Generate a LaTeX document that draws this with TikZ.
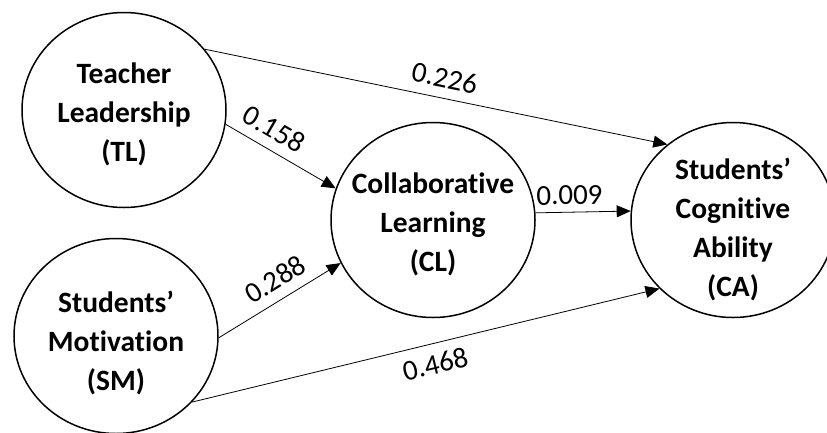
\documentclass[tikz,border=0pt]{standalone}
\usepackage{fontspec}
\setmainfont{Carlito}[Ligatures={NoCommon}]
\usetikzlibrary{arrows.meta, positioning, shapes.geometric}
\tikzset{
  construct/.style={ellipse, draw, line width=1.5pt, minimum width=204pt,
    minimum height=195pt, inner sep=0pt},
  conname/.style={align=center, inner sep=0pt,
    font=\fontsize{29.5}{39}\selectfont\bfseries},
  effect/.style={-{Triangle[length=14pt,width=12pt]}, line width=0.8pt},
  coef/.style={font=\fontsize{29}{34}\selectfont, sloped, inner sep=10pt},
}

\begin{document}
\begin{tikzpicture}[x=1pt,y=-1pt]
\useasboundingbox (0,0) rectangle (827,432);
% constructs
\node[construct] (TL) at (124,110) {};
\node[construct] (SM) at (116,336) {};
\node[construct] (CL) at (433,220) {};
\node[construct] (CA) at (733,220) {};
% construct names
\node[conname] (TLname) at ([yshift=-4pt]TL.center) {Teacher\\Leadership\\(TL)};
\node[conname] (SMname) at ([yshift=-7pt]SM.center) {Students’\\Motivation\\(SM)};
\node[conname] (CLname) at ([yshift=-4pt]CL.center) {Collaborative\\Learning\\(CL)};
\node[conname] (CAname) at ([yshift=-9pt]CA.center) {Students’\\Cognitive\\Ability\\(CA)};
% paths
\draw[effect] (TL.37) -- node[coef, above, pos=0.51] {0.226} (CA.131);
\draw[effect] (TL.-8) -- node[coef, above, pos=0.35] {0.158} (CL.162);
\draw[effect] (SM.-1) -- node[coef, above, pos=0.55] {0.288} (CL.205);
\draw[effect] (CL.4.5) -- node[coef, above, pos=0.36, inner sep=7pt] {0.009} (CA.175.5);
\draw[effect] (SM.-41) -- node[coef, below, pos=0.51] {0.468} (CA.223);
\end{tikzpicture}
\end{document}
